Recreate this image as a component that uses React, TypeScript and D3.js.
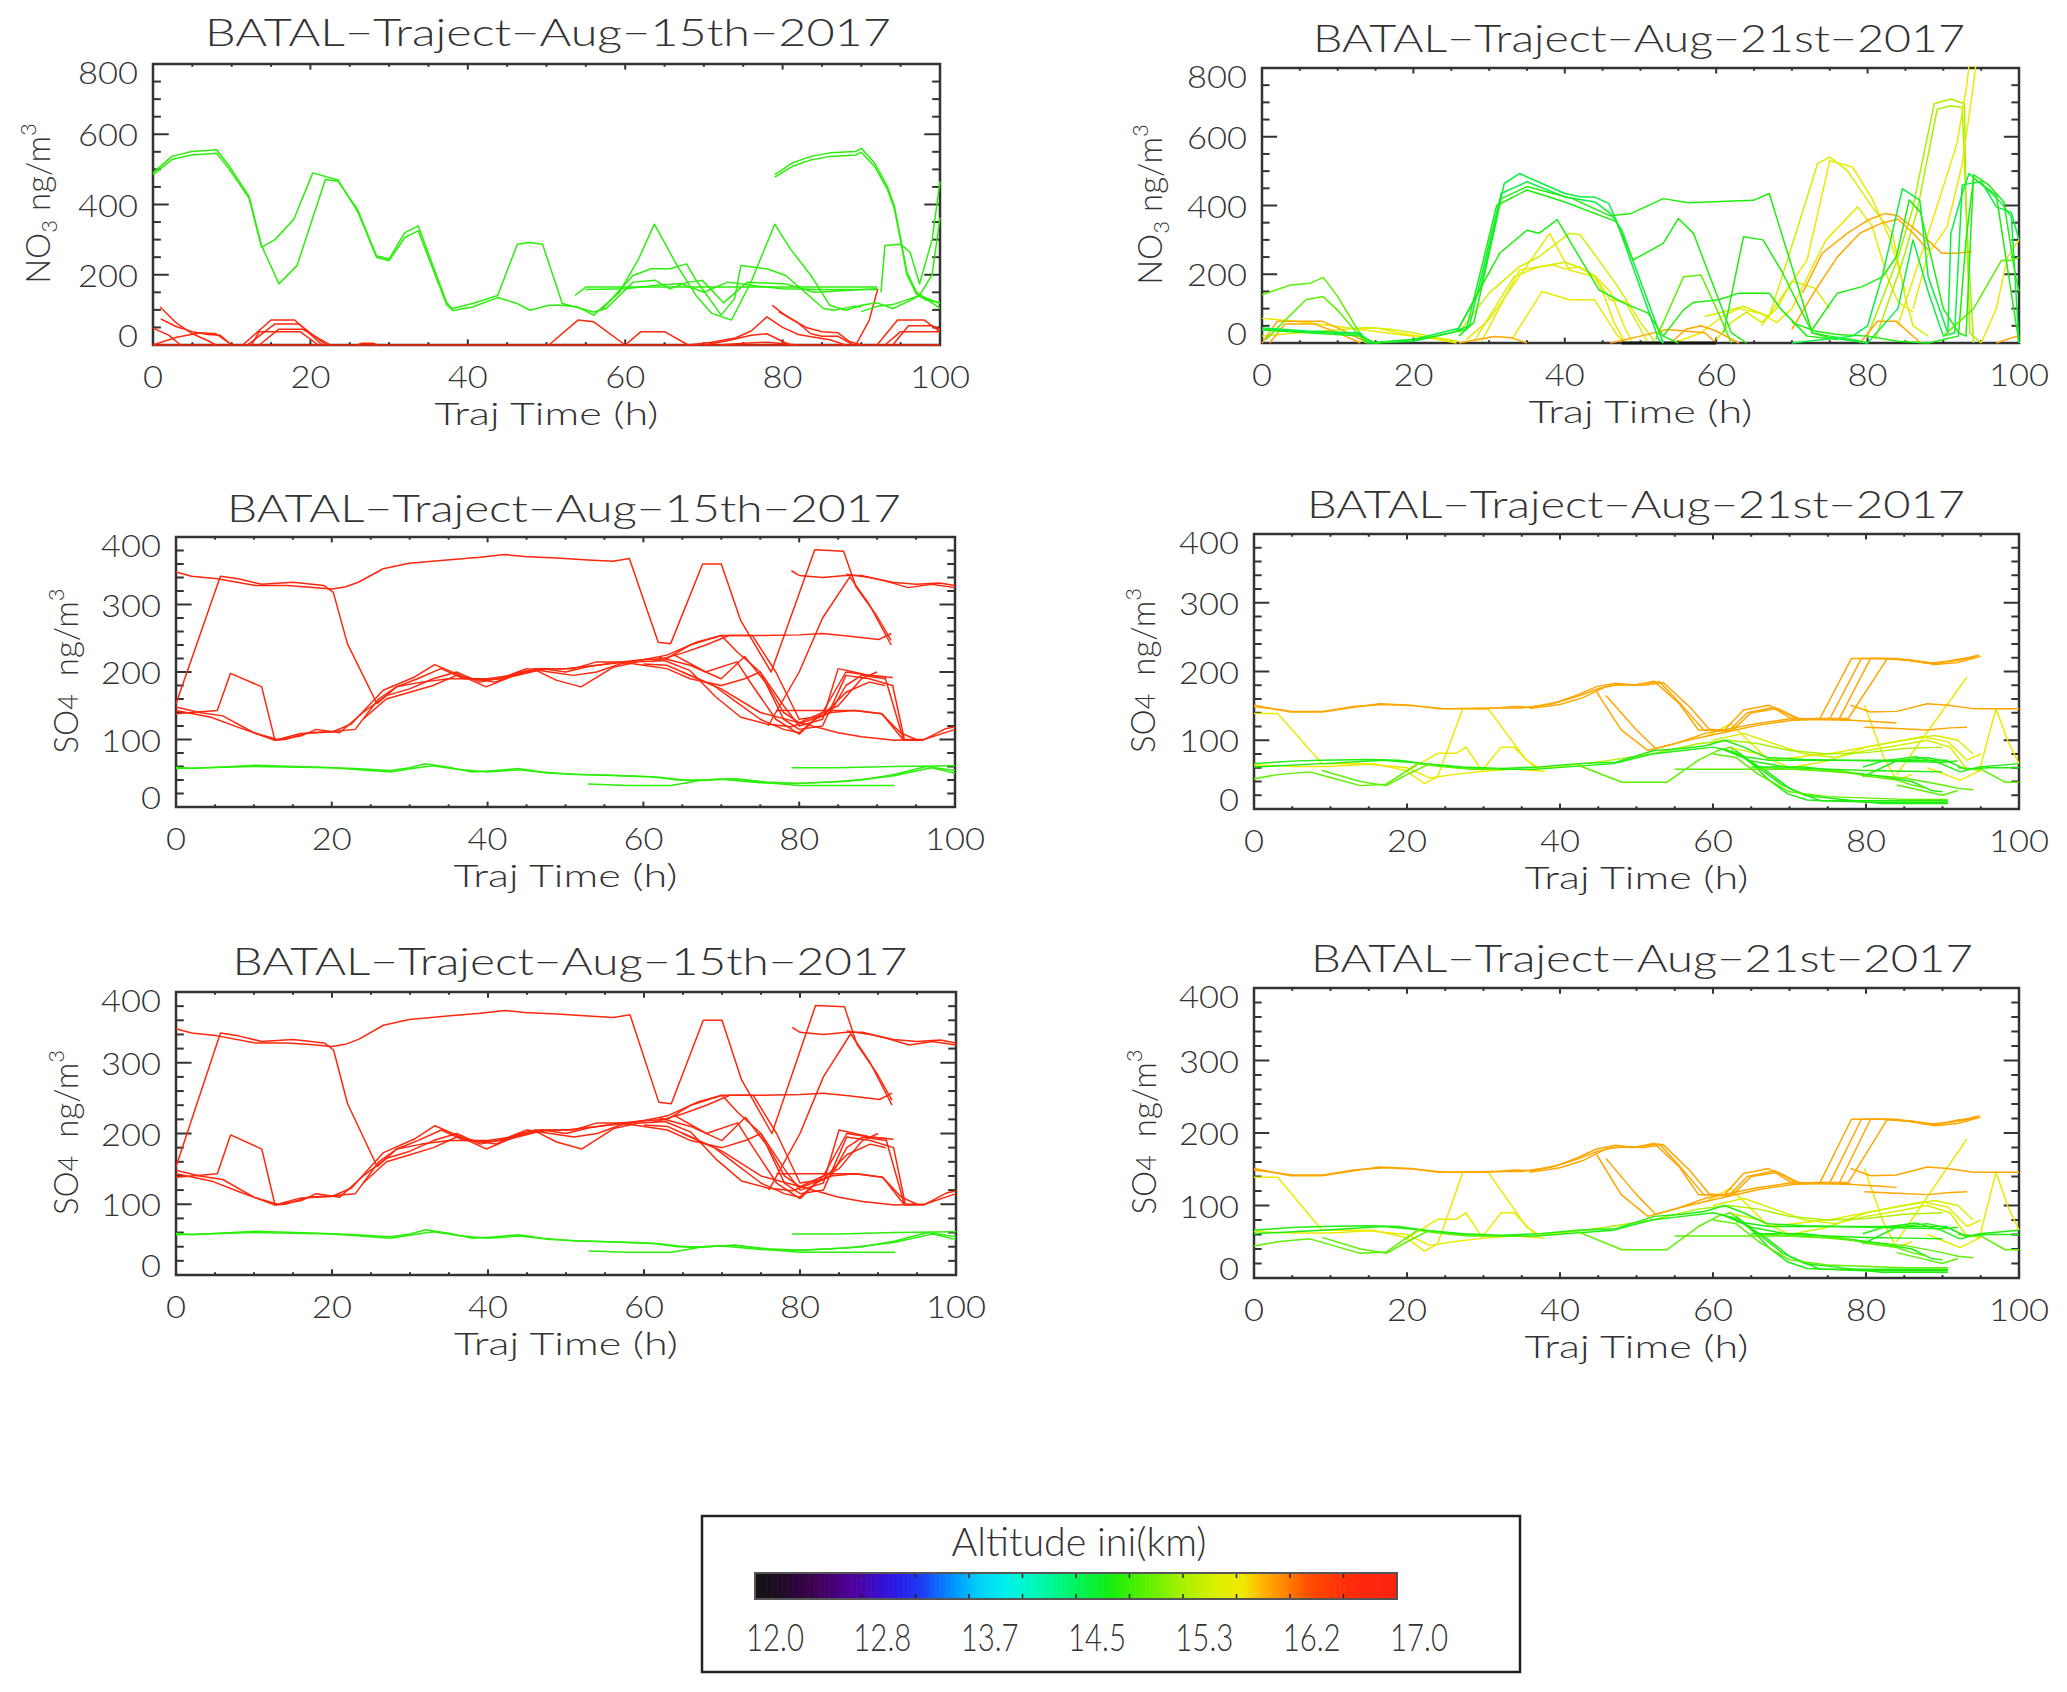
import React from "react";
import * as d3 from "d3";

type P = [number, number];
interface Traj { alt: number; pts: P[] }

// ---------------- data ----------------
const xTickValues = [0, 20, 40, 60, 80, 100];
const no3TickValues = [0, 200, 400, 600, 800];
const so4TickValues = [0, 100, 200, 300, 400];
const altitudeLabels = ["12.0", "12.8", "13.7", "14.5", "15.3", "16.2", "17.0"];
const altitudeDomain: [number, number] = [12, 17];
const colorStopAlt = [12.0, 12.18, 12.45, 12.75, 13.1, 13.3, 13.55, 13.75, 13.95, 14.2, 14.45, 14.75, 15.0, 15.3, 15.6, 15.8, 15.95, 16.1, 16.3, 16.6, 17.0];
const colorStopHex = ["#141414", "#1c0c22", "#3c0050", "#50009a", "#2a1ae8", "#1e3cf5", "#0096ff", "#00d2f5", "#00f0ec", "#00fab4", "#00f46e", "#12ee12", "#50f000", "#a0f000", "#dcf000", "#f0e800", "#ffb400", "#ff8c00", "#ff5000", "#ff2d0a", "#ff2010"];

const titleAug15 = "BATAL\u2212Traject\u2212Aug\u221215th\u22122017";
const titleAug21 = "BATAL\u2212Traject\u2212Aug\u221221st\u22122017";
const xAxisTitle = "Traj Time (h)";
const colorbarTitle = "Altitude ini(km)";

const RED = 16.8, GRN = 14.85;

const no3Aug15: Traj[] = [
  { alt: RED, pts: [[0, 0], [100, 0]] },
  { alt: RED, pts: [[0, 48], [2, 28], [3.5, 0]] },
  { alt: RED, pts: [[0.9, 108], [3, 62], [5, 32], [7, 12], [8, 0]] },
  { alt: RED, pts: [[1, 74], [3, 52], [5, 38], [7, 30], [8.5, 28], [10, 0]] },
  { alt: RED, pts: [[0, 0], [3, 22], [6, 35], [8, 32], [10, 0]] },
  { alt: RED, pts: [[11.4, 0], [15, 71], [18, 71], [21.5, 0]] },
  { alt: RED, pts: [[12.5, 0], [13.5, 38], [18.7, 38], [21, 0]] },
  { alt: RED, pts: [[12, 0], [15.5, 60], [18.5, 60], [22, 0]] },
  { alt: RED, pts: [[13.5, 0], [16, 45], [19, 45], [22.5, 0]] },
  { alt: RED, pts: [[26, 0], [26.5, 5], [28, 5], [28.5, 0]] },
  { alt: RED, pts: [[50.3, 0], [54, 71], [56, 66], [60, 0]] },
  { alt: RED, pts: [[60, 0], [62, 38], [65, 38], [68, 0]] },
  { alt: RED, pts: [[68, 0], [71, 8], [74, 20], [76, 40], [78, 80], [80, 50], [82, 30], [84, 22], [86, 15], [88, 0]] },
  { alt: RED, pts: [[78.7, 113], [80, 90], [82, 62], [83.6, 32], [85, 25], [87, 25], [89, 0]] },
  { alt: RED, pts: [[79.5, 95], [81, 75], [83, 50], [85, 38], [87, 35], [88.5, 10], [90, 0]] },
  { alt: RED, pts: [[70, 0], [73, 12], [76, 28], [78, 32], [80, 10], [81, 0]] },
  { alt: RED, pts: [[72, 0], [75, 5], [78, 8], [82, 0]] },
  { alt: RED, pts: [[89.3, 0], [91, 70], [92.1, 160]] },
  { alt: RED, pts: [[92, 0], [94.6, 71], [98, 71], [100, 38]] },
  { alt: RED, pts: [[93, 0], [95, 38], [100, 38]] },
  { alt: RED, pts: [[94, 0], [96, 55], [99, 55], [100, 45]] },
  { alt: GRN, pts: [[0, 490], [2.4, 537], [4.9, 551], [8.1, 556], [9.7, 509], [12.2, 424], [13.8, 283], [16, 174], [18.3, 226], [21.9, 471], [23.5, 466], [26, 386], [28.4, 254], [30, 245], [32, 320], [33.7, 339], [37.3, 122], [38, 104], [40.6, 118], [43.8, 141], [46.3, 287], [47.9, 292], [49.5, 287], [52, 118], [56, 94], [57.6, 104], [61, 179], [63.8, 184], [65.7, 160], [68, 179], [69.8, 184], [72.5, 120], [75.5, 179], [80.4, 174], [84, 150], [92, 160]] },
  { alt: GRN, pts: [[0, 485], [2.4, 528], [4.9, 541], [8.1, 546], [9.7, 500], [12.2, 418], [13.8, 278], [15.5, 300], [17.9, 358], [20.3, 490], [23.5, 470], [26, 380], [28.4, 250], [30, 240], [32, 306], [33.7, 325], [37.3, 115], [38.1, 98], [40.6, 108], [43.8, 135], [46.3, 118], [47.9, 99], [50.3, 113], [52, 113], [54, 108], [56, 85], [59.3, 151], [61.7, 245], [63.7, 344], [66.6, 226], [69, 141], [71, 90], [73.5, 71], [76, 180], [79, 344], [81, 273], [83.6, 198], [86, 113], [88, 99], [90, 113], [92, 120], [94, 104], [95.8, 122], [97.4, 141], [100, 118]] },
  { alt: GRN, pts: [[53.6, 141], [55, 165], [60, 165], [70, 165], [80, 165], [92, 165]] },
  { alt: GRN, pts: [[55, 158], [60, 160], [64, 170], [67, 175], [70, 150], [73, 179], [76, 170], [80, 160], [85, 158], [92, 158]] },
  { alt: GRN, pts: [[57, 100], [61, 198], [63.3, 217], [65.7, 217], [67.8, 231], [69, 185], [72.2, 85], [73.9, 132], [74.7, 226], [78, 217], [80.4, 198], [85.2, 104], [86.5, 99], [89, 110], [90, 108]] },
  { alt: GRN, pts: [[79, 485], [81.2, 518], [83.6, 537], [86, 547], [89.3, 551], [90, 560], [91.7, 518], [93.3, 452], [94.2, 396], [95, 302], [95.8, 207], [97, 151], [98.2, 132], [100, 104]] },
  { alt: GRN, pts: [[79, 478], [81.2, 508], [83.6, 527], [86, 537], [89.3, 541], [90, 549], [91.7, 508], [93.3, 444], [94.2, 388], [95, 296], [95.8, 200], [97, 145], [98.2, 128], [100, 120]] },
  { alt: GRN, pts: [[92.5, 150], [93, 283], [95, 287], [96.2, 264], [97.4, 174], [99, 300], [100, 466]] },
  { alt: GRN, pts: [[90, 95], [92, 110], [94, 115], [96, 130], [97.4, 141], [99, 200], [100, 363]] },
];

const DG = 14.6, G = 14.8, LG = 15.05, LIME = 15.35, YG = 15.55, YEL = 15.75, ORG = 16.0;

const no3Aug21: Traj[] = [
  { alt: YEL, pts: [[0, 72], [3, 66], [6.3, 58], [10, 48], [13, 39], [18, 25], [22, 15], [25.7, 0]] },
  { alt: YG, pts: [[0, 20], [4, 28], [8, 35], [14, 45], [17, 40], [20, 30], [23, 15], [26, 5]] },
  { alt: YEL, pts: [[12, 40], [15, 44], [18, 30], [22, 15], [25, 5]] },
  { alt: YG, pts: [[26, 30], [30, 145], [34, 222], [36.6, 251], [40.6, 319], [42, 315], [44.5, 241], [47, 164], [50, 60], [52, 0]] },
  { alt: YG, pts: [[28, 5], [33.3, 193], [36.6, 222], [40, 235], [41.7, 222], [44, 193], [46, 126], [48, 120], [51, 0]] },
  { alt: YEL, pts: [[27, 10], [30, 68], [38, 319], [40.6, 212], [43.9, 193], [45, 150], [46.5, 60], [48, 0]] },
  { alt: YEL, pts: [[29, 5], [34, 212], [36.6, 222], [38.6, 227], [40, 215], [41.9, 222], [44, 195], [46, 150], [48, 40], [49, 0]] },
  { alt: YEL, pts: [[33, 10], [37, 150], [40.6, 126], [43.9, 126], [47, 20], [48, 0]] },
  { alt: YG, pts: [[58.5, 77], [63.6, 106], [67, 77], [70.8, 338], [73.4, 522], [75, 541], [77.3, 502], [80.6, 396], [83.3, 319], [85, 130], [86, 50], [88, 20]] },
  { alt: YEL, pts: [[66, 50], [72, 241], [75, 530], [78, 512], [80.6, 420], [83, 300], [85, 150]] },
  { alt: YEL, pts: [[70, 100], [74.5, 300], [78.7, 396], [80.6, 340], [82.6, 193], [84, 120], [86, 90]] },
  { alt: LIME, pts: [[80, 20], [83.9, 241], [85.9, 386], [88.8, 696], [91, 710], [92.8, 696], [93, 400], [93.5, 29], [95, 0]] },
  { alt: LIME, pts: [[81, 10], [84.5, 230], [86.5, 380], [89.2, 680], [91, 690], [92.5, 685], [93.2, 300], [94, 0]] },
  { alt: YEL, pts: [[84, 50], [89, 386], [91.8, 580], [93.1, 749], [93.6, 850]] },
  { alt: YEL, pts: [[86, 100], [88, 260], [90.5, 338], [92.5, 520], [94, 754], [94.5, 850]] },
  { alt: YEL, pts: [[95, 0], [97, 100], [98.5, 250], [100, 300]] },
  { alt: YG, pts: [[60, 10], [62, 60], [64, 90], [66, 60], [68, 100], [70, 180], [73, 160], [75, 100]] },
  { alt: YEL, pts: [[55, 5], [58, 30], [61, 80], [63, 100], [66, 85], [68, 60], [70, 100]] },
  { alt: ORG, pts: [[71.4, 145], [74, 261], [77.3, 319], [80, 357], [82.3, 377], [84, 370], [85.9, 338], [87.9, 300], [89.8, 261], [91.8, 261], [93.8, 266]] },
  { alt: ORG, pts: [[70, 40], [73, 150], [76, 250], [79, 320], [82, 350], [84, 360], [86, 320], [88, 270]] },
  { alt: ORG, pts: [[0, 0], [2, 63], [8, 63], [10.5, 39], [14, 0]] },
  { alt: ORG, pts: [[1, 0], [3, 55], [7, 55], [10, 30], [13, 0]] },
  { alt: ORG, pts: [[26, 0], [30.7, 19], [33, 15], [35, 0]] },
  { alt: ORG, pts: [[46, 0], [50, 20], [53.5, 39], [58.5, 30], [60, 0]] },
  { alt: ORG, pts: [[54, 0], [56, 40], [58, 50], [60, 35], [63, 0]] },
  { alt: ORG, pts: [[79, 0], [81.3, 63], [83.8, 63], [85.5, 30], [87, 0]] },
  { alt: ORG, pts: [[97, 0], [99, 15], [100, 20]] },
  { alt: 12.0, pts: [[47.5, 0], [60, 0]] },
  { alt: LG, pts: [[0, 140], [3.8, 169], [6.4, 174], [8.1, 191], [10, 135], [13.7, 0]] },
  { alt: LG, pts: [[0.5, 10], [5.8, 126], [8.1, 135], [10, 95], [13.7, 0]] },
  { alt: DG, pts: [[0, 44], [6, 35], [13, 29], [14, 0], [20, 10], [26, 43], [28.8, 155], [32, 464], [34, 493], [40, 435], [42.2, 425], [43.9, 425], [45.8, 406], [46.8, 357], [52.4, 10], [53, 0]] },
  { alt: DG, pts: [[0, 40], [6, 32], [13, 25], [14.5, 0], [20, 5], [25, 30], [27.4, 50], [31.6, 435], [35, 469], [40, 425], [44, 410], [46, 377], [47.5, 330], [53, 0]] },
  { alt: G, pts: [[0, 38], [13, 20], [15, 0], [22, 15], [27, 40], [31, 400], [35, 445], [40, 410], [46.8, 353], [49, 241], [53, 290], [55, 362], [57, 319], [60, 145], [62, 30], [64, 0]] },
  { alt: G, pts: [[26, 20], [28, 60], [31.6, 420], [35, 455], [41, 420], [46, 370], [48.8, 377], [53, 420], [56.3, 408], [64.9, 415], [67, 435], [72.7, 29], [75, 20], [78, 10], [80, 0]] },
  { alt: G, pts: [[26, 45], [31.4, 261], [35, 328], [36.6, 319], [39, 359], [41.9, 251], [44.5, 155], [47.8, 116], [51, 87], [53, 20], [55, 0]] },
  { alt: LG, pts: [[52, 10], [55.7, 193], [58, 198], [60.3, 87], [62, 0]] },
  { alt: G, pts: [[53, 20], [55.7, 97], [57, 118], [60.3, 126], [63, 145], [67, 145], [68.5, 100], [72, 20], [76, 10]] },
  { alt: G, pts: [[61, 30], [63.6, 309], [66.2, 300], [68.8, 203], [72.7, 29], [75, 15]] },
  { alt: DG, pts: [[70, 0], [78, 20], [80, 50], [82, 200], [84.6, 449], [86.9, 415], [88, 193], [90.6, 29], [91, 319], [92.5, 435], [93.4, 493], [96.4, 435], [97.7, 406], [99, 367], [100, 0]] },
  { alt: DG, pts: [[75, 15], [80, 0], [84, 100], [86, 300], [88, 150], [90, 20], [91.5, 30], [92.5, 460], [95, 470], [97, 396], [99, 380], [100, 300]] },
  { alt: G, pts: [[72.7, 40], [76, 145], [79.3, 164], [82, 193], [83.8, 251], [85.5, 416], [87, 380], [90, 100], [92, 30], [93, 20], [94, 490], [96, 460], [98, 410], [99.5, 200], [100, 150]] },
  { alt: G, pts: [[70, 60], [73, 35], [76, 25], [80, 20], [84, 5], [88, 0], [90, 10], [92, 20], [93, 300], [94, 480], [97, 430], [100, 0]] },
  { alt: LG, pts: [[90, 20], [94, 100], [97.7, 241], [99, 240], [100, 250]] },
];

const so4Aug15: Traj[] = [
  { alt: RED, pts: [[0, 348], [2, 342], [5.3, 338], [10.2, 328], [14.3, 328], [16.8, 326], [20, 323], [21.7, 326], [23.4, 333], [26.6, 353], [29.9, 361], [34.8, 366], [39, 370], [42.2, 374], [44.7, 371], [48.8, 369], [52.9, 366], [56.1, 364], [58.2, 368], [61.9, 244], [63.5, 242], [67.6, 360], [70, 360], [72.5, 276], [76.4, 200], [82, 381], [85.7, 379], [87.3, 326], [89.8, 286], [91.8, 247]] },
  { alt: RED, pts: [[0, 153], [5.7, 342], [8, 338], [11, 330], [15, 333], [19, 328], [20.2, 318], [22, 242], [25.8, 153], [28.3, 178], [31, 190], [34, 205], [37, 190], [40, 190], [43, 195], [46, 205], [50, 205], [54, 210], [58, 215], [61, 220]] },
  { alt: RED, pts: [[0, 143], [4.5, 133], [8, 118], [12.7, 99], [16, 109], [20, 111], [22.5, 123], [26.6, 173], [30.7, 193], [33.2, 211], [36.5, 195], [39.8, 178], [43, 193], [46.3, 202], [48.8, 188], [52, 178], [56.1, 207], [59.4, 215], [62.7, 217], [66, 202], [69.3, 163], [72.5, 133], [75.8, 123], [79, 119], [84, 140], [86, 180], [88, 195], [91, 190]] },
  { alt: RED, pts: [[0, 138], [2, 140], [5.3, 143], [7, 198], [11, 178], [12.7, 99], [14, 100], [17, 110], [20, 112], [23, 115], [26, 160], [28.3, 178], [31.5, 185], [35, 190], [38, 190], [41, 185], [44, 200], [47, 205], [50, 200], [53, 208], [57, 215], [60, 218], [63, 220], [66, 240], [70, 254], [75, 254], [80, 255], [83, 257], [86.5, 253], [90.2, 248], [91.8, 257]] },
  { alt: RED, pts: [[0, 148], [3, 140], [6, 135], [10, 110], [13, 100], [16, 105], [18, 115], [21, 110], [24, 140], [27, 165], [30, 175], [33, 190], [36, 200], [39, 185], [42, 192], [45, 205], [48, 200], [51, 195], [54, 200], [57, 212], [60, 218], [63, 225], [67, 245], [70, 254], [72, 230], [75, 200], [78, 150], [80, 120], [83, 130], [85, 205], [87, 200], [89, 195], [91, 193], [93.4, 99], [95.9, 99], [98.8, 116], [100, 119]] },
  { alt: RED, pts: [[24, 130], [27, 160], [30, 170], [33, 180], [36, 195], [39, 188], [42, 190], [45, 200], [48, 205], [51, 205], [54, 215], [57, 215], [60, 210], [63, 205], [66, 190], [70, 180], [73, 190], [75, 200], [78, 130], [80, 115], [83, 120], [86, 195], [89, 190], [92, 180], [93.5, 100], [96, 100], [100, 115]] },
  { alt: RED, pts: [[60, 212], [63, 210], [66, 195], [69, 180], [72, 155], [75, 130], [78, 115], [80, 110], [82, 130], [84, 140], [87, 143], [90.6, 138], [93, 110], [95, 100]] },
  { alt: RED, pts: [[62, 222], [66, 210], [70, 190], [73, 223], [76, 180], [78, 140], [80, 125], [82, 135], [85, 150], [88, 190], [90, 200]] },
  { alt: RED, pts: [[64, 225], [68, 200], [72, 215], [74, 180], [77, 130], [80, 108], [83, 140], [86, 200], [89, 195], [92, 192]] },
  { alt: RED, pts: [[61, 215], [65, 228], [68, 240], [71, 254], [74, 254], [77, 200], [80, 130], [83, 135], [86, 170], [89, 185], [91, 180]] },
  { alt: RED, pts: [[77, 143], [80, 143], [84, 143], [87.3, 143], [90.6, 138], [93.4, 99]] },
  { alt: RED, pts: [[65, 200], [70, 175], [75, 140], [80, 125], [85, 110], [88, 104], [92.2, 99], [95, 100]] },
  { alt: RED, pts: [[76, 120], [80, 200], [83, 280], [86.5, 341], [89, 300], [91.8, 240]] },
  { alt: RED, pts: [[79, 350], [80, 343], [83, 340], [86, 343], [88, 343], [91, 335], [94, 325], [97, 330], [100, 325]] },
  { alt: RED, pts: [[86, 345], [89, 340], [92, 333], [95, 330], [98, 332], [100, 328]] },
  { alt: GRN, pts: [[0, 59], [2, 57], [10.2, 62], [18.4, 59], [23, 57], [27.5, 54], [30, 58], [32, 64], [35, 59], [38, 52], [41, 54], [43.9, 57], [47, 52], [51.2, 48], [56, 47], [61, 45], [64.3, 40], [67.6, 40], [71.7, 42], [75.8, 37], [79.9, 35], [84, 37], [88, 40], [92.2, 48], [96.3, 60], [100, 54]] },
  { alt: GRN, pts: [[0, 57], [10, 60], [20, 58], [27.5, 52], [31, 58], [33, 61], [36, 56], [40, 52], [44, 55], [48, 50], [55, 47], [62, 44], [66, 39], [70, 41], [75, 36], [80, 35], [86, 38], [92, 46], [97, 58], [100, 50]] },
  { alt: GRN, pts: [[79, 58], [85, 58], [92, 60], [100, 61]] },
  { alt: GRN, pts: [[52.9, 34], [58, 32], [63.5, 32], [67.6, 40], [71.7, 42], [75.8, 36], [80, 32], [86, 32], [92.2, 32]] },
];

const so4Aug21: Traj[] = [
  { alt: YEL, pts: [[0, 139], [3.1, 139], [8.9, 66], [15.6, 66], [19.8, 56], [22.3, 37], [24, 47], [27.3, 146], [30.6, 146], [35.6, 71], [37.3, 59], [40, 62]] },
  { alt: YEL, pts: [[20, 55], [24, 81], [26.4, 81], [27.7, 90], [29.8, 56], [32.3, 90], [34, 90], [35.6, 72], [37, 58]] },
  { alt: YEL, pts: [[0, 64], [5, 62], [10, 62], [15, 65], [20, 60], [23, 45], [26, 50], [30, 55], [34, 58], [38, 55]] },
  { alt: YEL, pts: [[59, 105], [62.3, 124], [67.3, 71], [75.6, 81], [82.3, 95], [87.3, 105], [90.7, 98], [93.2, 71], [95, 80]] },
  { alt: YEL, pts: [[79.8, 151], [82.3, 76], [84, 42], [86, 50]] },
  { alt: YEL, pts: [[84, 50], [93.2, 192]] },
  { alt: YEL, pts: [[88, 60], [92.3, 42], [94.8, 55], [97, 146], [98.5, 100], [100, 66]] },
  { alt: YG, pts: [[60, 100], [64, 110], [68, 95], [72, 80], [76, 75], [80, 85], [84, 92], [88, 100], [91, 90], [93, 60], [95, 55]] },
  { alt: YG, pts: [[62, 90], [66, 80], [70, 60], [75, 70], [80, 90], [85, 100], [89, 107], [92, 100], [94, 80]] },
  { alt: LIME, pts: [[40, 62], [46, 70], [52, 80], [58, 95], [62, 100], [66, 95], [70, 85], [75, 80], [80, 82], [85, 88], [90, 90]] },
  { alt: ORG, pts: [[0, 151], [4.8, 141], [8.9, 141], [13.1, 148], [16.4, 153], [20.6, 151], [24, 146], [30.6, 146], [34, 149], [36.4, 148], [39.8, 156], [42.3, 166], [44.8, 178], [47.3, 183], [49.8, 180], [52.3, 186], [55.6, 153], [58.1, 115], [61.5, 115], [64, 144], [67.3, 151], [70.6, 129], [74, 132], [78.1, 219], [82.3, 219], [85.6, 217], [89, 212], [92.3, 217], [94.8, 224]] },
  { alt: ORG, pts: [[0, 149], [5, 142], [9, 142], [13, 149], [17, 152], [21, 150], [25, 146], [31, 147], [35, 147], [39, 153], [42, 163], [45, 175], [47, 180], [50, 181], [53, 185], [56, 150], [58.8, 115], [62, 113], [64.5, 140], [68, 148], [71, 131], [75.3, 132], [79.4, 219], [82, 219], [86, 216], [89, 210], [92, 213], [95, 222]] },
  { alt: ORG, pts: [[36, 146], [40, 152], [43, 162], [46, 178], [48, 181], [51, 180], [53.5, 184], [57, 148], [59.5, 116], [62.5, 114], [65, 140], [68.5, 146], [71.5, 130], [76.5, 131], [80.6, 219], [84, 219], [88, 212], [91, 215], [94, 220]] },
  { alt: ORG, pts: [[72, 131], [77.7, 132], [82.8, 219], [86, 216], [89, 211], [92, 218], [94.5, 221]] },
  { alt: ORG, pts: [[44.8, 170], [48, 115], [51.5, 85], [55, 95], [59, 110], [65.6, 124], [70.6, 132], [78.1, 129], [81.5, 127], [84, 125]] },
  { alt: ORG, pts: [[46, 165], [50, 115], [52.5, 88], [56, 98], [60, 108], [66, 122], [71, 130], [78, 130]] },
  { alt: ORG, pts: [[78, 151], [80.6, 141], [84, 142], [88, 153], [90.7, 151], [94, 146], [100, 146]] },
  { alt: ORG, pts: [[79.8, 119], [84, 117], [88, 115], [91, 118], [93.2, 119]] },
  { alt: G, pts: [[0, 66], [5.6, 70], [8.9, 71], [14.8, 72], [18.9, 71], [22.3, 66], [27.3, 61], [32.3, 59], [37.3, 61], [42.3, 66], [47.3, 68], [52.3, 85], [56, 88], [59, 92], [61.5, 100], [64, 90], [67, 75], [72, 72], [80, 70], [90, 68], [92, 70]] },
  { alt: G, pts: [[0, 61], [8.9, 66], [16.9, 71], [22.3, 66], [27, 60], [32, 58], [37, 58], [42, 62], [47, 66], [52, 80], [56, 85], [60, 90], [62, 85], [65, 70], [70, 60], [75, 58], [80, 56], [85, 55], [90, 54]] },
  { alt: LG, pts: [[0, 44], [3.1, 50], [7.3, 54], [10.6, 44], [13.9, 34], [17.3, 36], [21.4, 66], [24, 62], [28, 58], [32, 58]] },
  { alt: LG, pts: [[8.9, 56], [13.9, 40], [17.3, 34], [20, 50], [23, 66]] },
  { alt: LG, pts: [[42.3, 64], [48.1, 39], [54, 39], [58.1, 71], [60.6, 85], [62.3, 90], [65.6, 61], [70, 58], [75, 55], [80, 50], [85, 45], [90, 35], [92, 30], [94, 28]] },
  { alt: G, pts: [[62.3, 85], [64.8, 70], [67.3, 42], [69.8, 22], [72.3, 13], [79.8, 10], [90.7, 10]] },
  { alt: G, pts: [[61, 88], [64, 75], [67, 55], [70, 30], [74, 12], [80, 12], [90.7, 12]] },
  { alt: G, pts: [[63, 85], [66, 60], [69, 35], [72, 20], [76, 15], [82, 8], [90.7, 8]] },
  { alt: LG, pts: [[60, 80], [63, 75], [66, 50], [70, 25], [75, 18], [85, 14], [90.7, 14]] },
  { alt: G, pts: [[63, 78], [67.3, 71], [75.6, 71], [82, 71], [90.7, 71]] },
  { alt: G, pts: [[65, 61], [72, 61], [77.4, 54], [82.3, 47], [86, 40], [88.5, 27], [90, 25]] },
  { alt: G, pts: [[79.6, 61], [82.3, 70], [86.5, 76], [89.8, 66], [92.3, 54], [94.8, 61], [100, 66]] },
  { alt: LG, pts: [[92, 60], [95, 58], [98.2, 39], [100, 39]] },
  { alt: G, pts: [[79.6, 47], [84, 70], [88, 75], [91, 68], [93, 58], [96, 60], [100, 60]] },
  { alt: LG, pts: [[84, 35], [88, 25], [90, 20], [92, 27]] },
  { alt: LG, pts: [[55, 58], [62, 58], [70, 58], [77, 55], [80, 48], [84, 42], [86, 35], [88, 30]] },
];

// ---------------- layout ----------------
interface PanelCfg {
  data: Traj[]; title: string; kind: "no3" | "so4";
  x0: number; x1: number; y0: number; y1: number;
  titleX: number; titleY: number; titleW: number; yTitleX: number;
}

const panels: PanelCfg[] = [
  { data: no3Aug15, title: titleAug15, kind: "no3", x0: 153, x1: 940, y0: 64, y1: 345, titleX: 548, titleY: 46, titleW: 686, yTitleX: 50 },
  { data: no3Aug21, title: titleAug21, kind: "no3", x0: 1262, x1: 2019, y0: 68, y1: 343, titleX: 1639, titleY: 52, titleW: 652, yTitleX: 1162 },
  { data: so4Aug15, title: titleAug15, kind: "so4", x0: 176, x1: 955, y0: 537, y1: 807, titleX: 564, titleY: 522, titleW: 674, yTitleX: 78 },
  { data: so4Aug21, title: titleAug21, kind: "so4", x0: 1254, x1: 2019, y0: 534, y1: 809, titleX: 1636, titleY: 518, titleW: 658, yTitleX: 1155 },
  { data: so4Aug15, title: titleAug15, kind: "so4", x0: 176, x1: 956, y0: 992, y1: 1275, titleX: 570, titleY: 975, titleW: 675, yTitleX: 78 },
  { data: so4Aug21, title: titleAug21, kind: "so4", x0: 1254, x1: 2019, y0: 988, y1: 1278, titleX: 1642, titleY: 972, titleW: 662, yTitleX: 1156 },
];

const FONT = "Lato, 'Liberation Sans', 'DejaVu Sans', sans-serif";
const FW = 300;
const INK = "#333";

const color = d3.scaleLinear<string>().domain(colorStopAlt).range(colorStopHex).interpolate(d3.interpolateRgb).clamp(true);

function Panel({ cfg, idx }: { cfg: PanelCfg; idx: number }) {
  const yMax = cfg.kind === "no3" ? 800 : 400;
  const x = d3.scaleLinear().domain([0, 100]).range([cfg.x0, cfg.x1]);
  const y = d3.scaleLinear().domain([0, yMax]).range([cfg.y1, cfg.y0]);
  const yTicks = cfg.kind === "no3" ? no3TickValues : so4TickValues;
  const yMinor = d3.range(0, yMax + 0.001, cfg.kind === "no3" ? 50 : 20);
  const xMinor = d3.range(0, 100.001, 5);
  const w = cfg.x1 - cfg.x0, h = cfg.y1 - cfg.y0;
  const yMaj = 0.02 * w, xMaj = 0.02 * h;
  const line = d3.line<P>().x(d => x(d[0])).y(d => y(d[1]));
  const cy = (cfg.y0 + cfg.y1) / 2 - 1;
  const cx = (cfg.x0 + cfg.x1) / 2;
  const clipId = `clip-${idx}`;

  return (
    <g>
      <defs>
        <clipPath id={clipId}>
          <rect x={cfg.x0 - 2} y={cfg.y0 - 2} width={w + 4} height={h + 4} />
        </clipPath>
      </defs>
      <text x={cfg.titleX} y={cfg.titleY} textAnchor="middle" fontSize={38} fill={INK} fontFamily={FONT} fontWeight={FW}
        textLength={cfg.titleW} lengthAdjust="spacingAndGlyphs">{cfg.title}</text>

      <g stroke={INK} strokeWidth={2}>
        {xMinor.map(t => {
          const L = xTickValues.includes(t) ? xMaj : xMaj / 2;
          return (
            <g key={"xt" + t}>
              <line x1={x(t)} x2={x(t)} y1={cfg.y1} y2={cfg.y1 - L} />
              <line x1={x(t)} x2={x(t)} y1={cfg.y0} y2={cfg.y0 + L} />
            </g>
          );
        })}
        {yMinor.map(v => {
          const L = yTicks.includes(v) ? yMaj : yMaj / 2;
          return (
            <g key={"yt" + v}>
              <line x1={cfg.x0} x2={cfg.x0 + L} y1={y(v)} y2={y(v)} />
              <line x1={cfg.x1} x2={cfg.x1 - L} y1={y(v)} y2={y(v)} />
            </g>
          );
        })}
      </g>
      <rect x={cfg.x0} y={cfg.y0} width={w} height={h} fill="none" stroke={INK} strokeWidth={2.5} />

      <g fontSize={31} fill={INK} fontFamily={FONT} fontWeight={FW}>
        {xTickValues.map(t => {
          const s = String(t);
          return (
            <text key={"xl" + t} x={x(t)} y={cfg.y1 + 43} textAnchor="middle"
              textLength={s.length * 20} lengthAdjust="spacingAndGlyphs">{s}</text>
          );
        })}
        {yTicks.map((v, i) => {
          const s = String(v);
          const shift = i === yTicks.length - 1 ? 20 : i === 0 ? 2 : 12;
          return (
            <text key={"yl" + v} x={cfg.x0 - 15} y={y(v) + shift} textAnchor="end"
              textLength={s.length * 20} lengthAdjust="spacingAndGlyphs">{s}</text>
          );
        })}
        <text x={cx} y={cfg.y1 + 80} textAnchor="middle" textLength={224} lengthAdjust="spacingAndGlyphs">{xAxisTitle}</text>
      </g>

      <text transform={`translate(${cfg.yTitleX},${cy}) rotate(-90)`} textAnchor="middle" fontSize={33}
        fill={INK} fontFamily={FONT} fontWeight={FW} style={{ whiteSpace: "pre" }}>
        {cfg.kind === "no3" ? (
          <>
            <tspan>NO</tspan>
            <tspan fontSize={22} dy={7}>3</tspan>
            <tspan dy={-7}>{" ng/m"}</tspan>
            <tspan fontSize={22} dy={-14}>3</tspan>
          </>
        ) : (
          <>
            <tspan>SO</tspan>
            <tspan fontSize={27}>4</tspan>
            <tspan>{"  ng/m"}</tspan>
            <tspan fontSize={22} dy={-14}>3</tspan>
          </>
        )}
      </text>

      <g clipPath={`url(#${clipId})`} fill="none" strokeWidth={1.5} strokeLinejoin="round">
        {cfg.data.map((tr, i) => (
          <path key={i} d={line(tr.pts) || ""} stroke={color(tr.alt)} strokeWidth={tr.alt < 12.5 ? 3 : 1.5} />
        ))}
      </g>
    </g>
  );
}

function ColorBar() {
  const bx0 = 755, bx1 = 1397, by0 = 1573, by1 = 1599;
  const cb = d3.scaleLinear().domain(altitudeDomain).range([bx0, bx1]);
  const n = 260;
  const step = (altitudeDomain[1] - altitudeDomain[0]) / n;
  const cells = d3.range(n).map(i => altitudeDomain[0] + i * step);
  const minorTicks = d3.range(1, 12).map(k => altitudeDomain[0] + (k * (altitudeDomain[1] - altitudeDomain[0])) / 12);
  const labelPos = d3.scaleLinear().domain([0, altitudeLabels.length - 1]).range([775, 1419]);
  return (
    <g>
      <rect x={702} y={1516} width={818} height={156} fill="#fff" stroke="#222" strokeWidth={2.5} />
      <text x={1079} y={1556} textAnchor="middle" fontSize={40} fill={INK} fontFamily={FONT} fontWeight={FW}
        textLength={255} lengthAdjust="spacingAndGlyphs">{colorbarTitle}</text>
      {cells.map((a, i) => (
        <rect key={i} x={cb(a)} y={by0} width={cb(a + step) - cb(a) + 0.6} height={by1 - by0} fill={color(a + step / 2)} />
      ))}
      <g stroke="#222" strokeWidth={1.5}>
        {minorTicks.map((a, i) => (
          <g key={i}>
            <line x1={cb(a)} x2={cb(a)} y1={by0} y2={by0 + 5} />
            <line x1={cb(a)} x2={cb(a)} y1={by1} y2={by1 - 5} />
          </g>
        ))}
      </g>
      <rect x={bx0} y={by0} width={bx1 - bx0} height={by1 - by0} fill="none" stroke="#555" strokeWidth={2} />
      {altitudeLabels.map((s, i) => (
        <text key={s} x={labelPos(i)} y={1651} textAnchor="middle" fontSize={37} fill={INK} fontFamily={FONT} fontWeight={FW}
          textLength={58} lengthAdjust="spacingAndGlyphs">{s}</text>
      ))}
    </g>
  );
}

export default function App() {
  return (
    <svg width={2067} height={1692} viewBox="0 0 2067 1692"
      style={{ position: "absolute", left: 0, top: 0, display: "block", background: "#fff" }}>
      <rect x={0} y={0} width={2067} height={1692} fill="#fff" />
      {panels.map((p, i) => <Panel key={i} cfg={p} idx={i} />)}
      <ColorBar />
    </svg>
  );
}
